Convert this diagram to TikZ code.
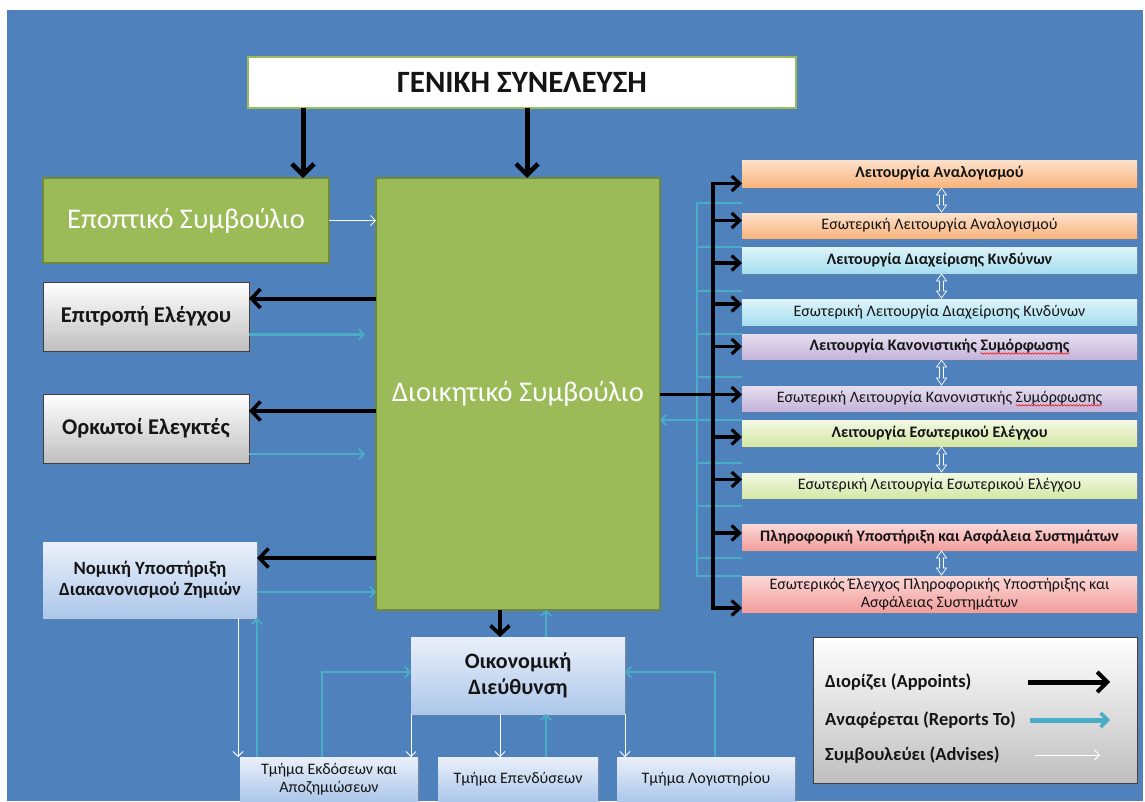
\documentclass[tikz,border=0pt]{standalone}
\usepackage{fontspec}
\setmainfont{Carlito}
\usetikzlibrary{arrows.meta,calc,shadows,decorations.pathmorphing}
\definecolor{bg}{HTML}{4F81BD}
\definecolor{grn}{HTML}{9BBB59}
\definecolor{grnd}{HTML}{71893F}
\definecolor{rep}{HTML}{4BACC6}
\definecolor{txt}{HTML}{151515}
\newcommand\fsz[2]{\fontsize{#1}{#2}\selectfont}
\newcommand\dblarr[2]{%
  \path (#1.south) coordinate (da1) (#2.north) coordinate (da2);
  \draw[white, line width=0.7pt, fill=bg]
   ($(da1)+(2,1)$) -- ++(5,7) -- ++(-3,0) -- ($(da2)+(4,-8)$) -- ++(3,0)
   -- ($(da2)+(2,-1)$) -- ++(-5,-7) -- ++(3,0) -- ($(da1)+(0,8)$) -- ++(-3,0) -- cycle;}
\begin{document}
\begin{tikzpicture}[x=1pt,y=-1pt,
  base/.style={inner sep=0pt, outer sep=0pt, anchor=north west, align=center, text=txt},
  titlebox/.style={base, fill=white, draw=grn, line width=2pt, font=\fsz{31}{36}\bfseries},
  greenbox/.style={base, fill=grn, draw=grnd, line width=1.5pt, text=white, font=\fsz{28.5}{33}},
  shad/.style={drop shadow={shadow xshift=1.5pt, shadow yshift=-1.5pt, opacity=0.35}},
  graybox/.style={base, shad, top color=white, bottom color=black!25, draw=black!75, line width=0.8pt, font=\fsz{22.5}{26}\bfseries},
  bluebox/.style={base, shad, top color={rgb,255:red,234;green,240;blue,250}, bottom color={rgb,255:red,172;green,199;blue,234}},
  fnbox/.style={base, shad, minimum width=395pt, font=\fsz{16}{18}},
  fnbold/.style={font=\fsz{16}{18}\bfseries},
  plaintext/.style={inner sep=0pt, outer sep=0pt, text=txt, font=\fsz{16}{18}},
  wave/.style={red, line width=0.5pt, decorate, decoration={snake, amplitude=0.8pt, segment length=3pt}},
  orng/.style={fnbox, top color={rgb,255:red,253;green,226;blue,203}, bottom color={rgb,255:red,248;green,180;blue,126}},
  cyan/.style={fnbox, top color={rgb,255:red,222;green,244;blue,250}, bottom color={rgb,255:red,166;green,222;blue,239}},
  purp/.style={fnbox, top color={rgb,255:red,230;green,222;blue,239}, bottom color={rgb,255:red,196;green,180;blue,218}},
  lime/.style={fnbox, top color={rgb,255:red,242;green,248;blue,228}, bottom color={rgb,255:red,212;green,232;blue,166}},
  rose/.style={fnbox, top color={rgb,255:red,251;green,216;blue,214}, bottom color={rgb,255:red,242;green,158;blue,156}},
  legtext/.style={inner sep=0pt, anchor=west, text=txt, font=\fsz{18.5}{21}\bfseries},
  bigappoint/.style={line width=5pt, -{Straight Barb[length=11pt,width=22pt,line width=4.5pt]}},
  appoint/.style={line width=4pt, -{Straight Barb[length=9pt,width=19pt,line width=3.6pt]}},
  rappoint/.style={line width=3.5pt, -{Straight Barb[length=8pt,width=15pt,line width=3.2pt]}},
  report/.style={draw=rep, line width=2.2pt, -{Straight Barb[length=5pt,width=11pt,line width=1.8pt]}},
  repline/.style={draw=rep, line width=2.2pt},
  advise/.style={draw=white, line width=0.8pt, -{Straight Barb[length=5pt,width=10pt,line width=0.8pt]}},
]
\useasboundingbox (0,0) rectangle (1145,801);
\fill[white] (0,0) rectangle (1145,801);
\fill[bg] (7,10) rectangle (1143,801);

% nodes
\node[titlebox, minimum width=548pt, minimum height=51pt] (ga) at (248,57) {ΓΕΝΙΚΗ ΣΥΝΕΛΕΥΣΗ};
\node[greenbox, minimum width=286pt, minimum height=85pt] (ep) at (43,178) {Εποπτικό Συμβούλιο};
\node[greenbox, minimum width=284pt, minimum height=432pt] (ds) at (376,178) {Διοικητικό Συμβούλιο};
\node[graybox, minimum width=206pt, minimum height=69pt] (ee) at (43,282) {Επιτροπή Ελέγχου};
\node[graybox, minimum width=206pt, minimum height=69pt] (oe) at (43,394) {Ορκωτοί Ελεγκτές};
\node[bluebox, minimum width=214pt, minimum height=76pt, font=\fsz{18.7}{21}\bfseries] (nm) at (43,542) {Νομική Υποστήριξη\\Διακανονισμού Ζημιών};
\node[bluebox, minimum width=214pt, minimum height=77pt, font=\fsz{22}{26}\bfseries] (od) at (411,637) {Οικονομική\\Διεύθυνση};
\node[bluebox, minimum width=178pt, minimum height=44pt, font=\fsz{16}{18}] (t1) at (240,757) {Τμήμα Εκδόσεων και\\Αποζημιώσεων};
\node[bluebox, minimum width=160pt, minimum height=44pt, font=\fsz{16}{18}] (t2) at (438,757) {Τμήμα Επενδύσεων};
\node[bluebox, minimum width=178pt, minimum height=44pt, font=\fsz{16}{18}] (t3) at (617,757) {Τμήμα Λογιστηρίου};

\node[orng, fnbold, minimum height=27pt] (r1) at (742,160) {Λειτουργία Αναλογισμού};
\node[orng, minimum height=25pt] (r2) at (742,213) {Εσωτερική Λειτουργία Αναλογισμού};
\node[cyan, fnbold, minimum height=26pt] (r3) at (742,247) {Λειτουργία Διαχείρισης Κινδύνων};
\node[cyan, minimum height=26pt] (r4) at (742,299) {Εσωτερική Λειτουργία Διαχείρισης Κινδύνων};
\node[purp, minimum height=25pt] (r5) at (742,334) {};
\node[plaintext, font=\fsz{16}{18}\bfseries] (r5t) at (r5.center) {Λειτουργία Κανονιστικής Συμόρφωσης};
\node[plaintext, font=\fsz{16}{18}\bfseries, anchor=base east] (w5) at (r5t.base east) {\phantom{Συμόρφωσης}};
\draw[wave] ([yshift=-2.5pt]w5.base west) -- ([yshift=-2.5pt]w5.base east);
\node[purp, minimum height=25pt] (r6) at (742,386) {};
\node[plaintext] (r6t) at (r6.center) {Εσωτερική Λειτουργία Κανονιστικής Συμόρφωσης};
\node[plaintext, anchor=base east] (w6) at (r6t.base east) {\phantom{Συμόρφωσης}};
\draw[wave] ([yshift=-2.5pt]w6.base west) -- ([yshift=-2.5pt]w6.base east);
\node[lime, fnbold, minimum height=26pt] (r7) at (742,420) {Λειτουργία Εσωτερικού Ελέγχου};
\node[lime, minimum height=25pt] (r8) at (742,473) {Εσωτερική Λειτουργία Εσωτερικού Ελέγχου};
\node[rose, fnbold, minimum height=26pt] (r9) at (742,524) {Πληροφορική Υποστήριξη και Ασφάλεια Συστημάτων};
\node[rose, minimum height=36pt] (r10) at (742,576) {Εσωτερικός Έλεγχος Πληροφορικής Υποστήριξης και\\Ασφάλειας Συστημάτων};

\node[graybox, minimum width=324pt, minimum height=146pt] (lg) at (813,637) {};
\node[legtext] (l1) at (825,682) {Διορίζει (Appoints)};
\node[legtext] (l2) at (825,720) {Αναφέρεται (Reports To)};
\node[legtext] (l3) at (825,755) {Συμβουλεύει (Advises)};

% top connectors
\coordinate (g1) at ($(ga.south west)+(55,0)$);
\draw[bigappoint] (g1) -- (g1 |- ep.north);
\coordinate (g2) at ($(ga.south)+(5,0)$);
\draw[bigappoint] (g2) -- (g2 |- ds.north);
\draw[advise] (ep.east) -- (ep.east -| ds.west);

% left connectors
\coordinate (e1) at ($(ee.east)+(0,-18)$);
\coordinate (e2) at ($(ee.east)+(0,18)$);
\draw[appoint] (e1 -| ds.west) -- (e1);
\draw[report] (e2) -- ($(e2 -| ds.west)+(-11,0)$);
\coordinate (o1) at ($(oe.east)+(0,-17.5)$);
\coordinate (o2) at ($(oe.east)+(0,25.5)$);
\draw[appoint] (o1 -| ds.west) -- (o1);
\draw[report] (o2) -- ($(o2 -| ds.west)+(-11,0)$);
\coordinate (n1) at ($(nm.east)+(0,-22)$);
\coordinate (n2) at ($(nm.east)+(0,12)$);
\draw[appoint] (n1 -| ds.west) -- (n1);
\draw[report] (n2) -- (n2 -| ds.west);

% bottom connectors
\coordinate (w1) at ($(t1.north west)+(-2,0)$);
\draw[advise] (w1 |- nm.south) -- (w1);
\coordinate (w2) at ($(t1.north west)+(17,0)$);
\draw[report] (w2) -- (w2 |- nm.south);
\coordinate (d1) at ($(od.north)+(-18,0)$);
\draw[appoint] (d1 |- ds.south) -- (d1);
\coordinate (d2) at ($(od.north)+(28,0)$);
\draw[report] (d2) -- (d2 |- ds.south);
\coordinate (k1) at ($(t1.north west)+(82,0)$);
\draw[report] (k1) |- ($(od.west)+(0,-3.5)$);
\draw[advise] (od.south west) -- (od.south west |- t1.north);
\coordinate (d3) at ($(od.south)+(-18,0)$);
\draw[advise] (d3) -- (d3 |- t2.north);
\coordinate (d4) at ($(od.south)+(28,0)$);
\draw[report] (d4 |- t2.north) -- (d4);
\draw[advise] (od.south east) -- (od.south east |- t3.north);
\coordinate (k3) at ($(t3.north west)+(98,0)$);
\draw[report] (k3) |- ($(od.east)+(0,-3.5)$);

% right side: teal bus
\coordinate (bus) at (697,0);
\coordinate (s1) at ($(r1.south west)!0.6!(r2.north west)$);
\coordinate (s2) at (r3.north west);
\coordinate (s3) at ($(r3.south west)!0.7!(r4.north west)$);
\coordinate (s4) at (r5.north west);
\coordinate (s5) at ($(r5.south west)!0.67!(r6.north west)$);
\coordinate (s6) at (r7.north west);
\coordinate (s7) at ($(r7.south west)!0.63!(r8.north west)$);
\coordinate (s8) at ($(r8.south west)!0.3!(r9.north west)$);
\coordinate (s9) at ($(r9.south west)!0.3!(r10.north west)$);
\coordinate (s10) at (r10.north west);
\draw[repline, line cap=rect] (bus |- s1) -- (bus |- s10);
\foreach \s in {s1,s2,s3,s4,s5,s7,s8,s9,s10} {\draw[repline] (bus |- \s) -- (\s);}
\draw[report] (r7.north west) -- (r7.north west -| ds.east);

% right side: black trunk
\coordinate (trunk) at (713,0);
\coordinate (a1) at ($(r1.west)+(0,10)$);
\coordinate (a10) at ($(r10.west)+(0,14)$);
\draw[line width=3.5pt, line cap=rect] (trunk |- a1) -- (trunk |- a10);
\foreach \b/\o in {r1/10, r2/-5, r3/3, r4/-8, r5/0, r7/4, r8/-6, r9/-4, r10/14} {
  \coordinate (a) at ($(\b.west)+(0,\o)$);
  \draw[rappoint] (trunk |- a) -- (a);
}
\coordinate (a6) at ($(r6.west)+(0,-4)$);
\draw[rappoint] (a6 -| ds.east) -- (a6);

% double arrows
\dblarr{r1}{r2}
\dblarr{r3}{r4}
\dblarr{r5}{r6}
\dblarr{r7}{r8}
\dblarr{r9}{r10}

% legend arrows
\coordinate (la1) at (1028,682); \coordinate (lb1) at (1110,682);
\coordinate (la2) at (1030,720); \coordinate (lb2) at (1110,720);
\coordinate (la3) at (1035,755); \coordinate (lb3) at (1100,755);
\draw[line width=5pt, -{Straight Barb[length=10pt,width=20pt,line width=4pt]}] (la1) -- (lb1);
\draw[draw=rep, line width=5pt, -{Straight Barb[length=7pt,width=14pt,line width=3.5pt]}] (la2) -- (lb2);
\draw[advise] (la3) -- (lb3);
\end{tikzpicture}
\end{document}
